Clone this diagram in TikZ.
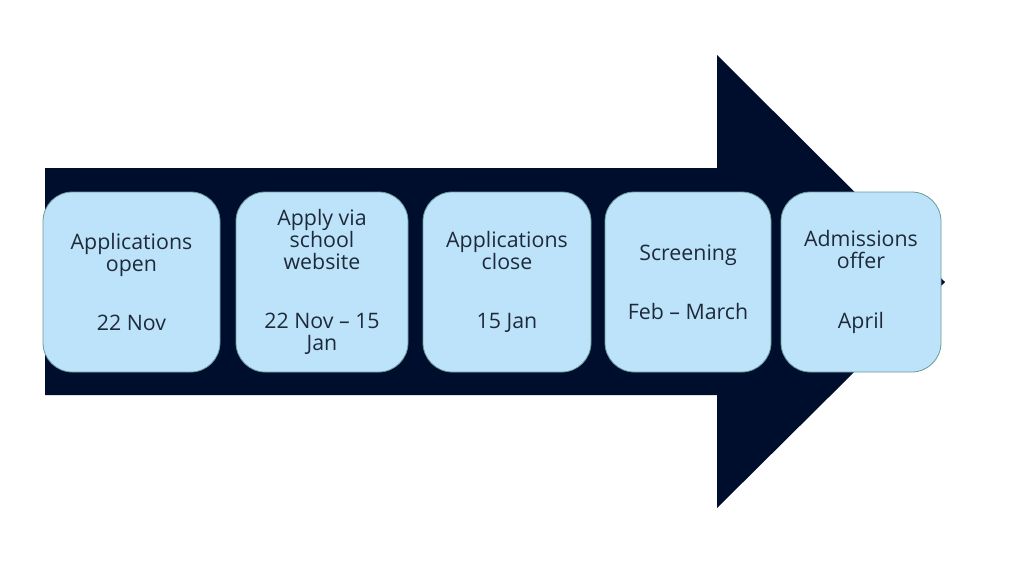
\documentclass[tikz,border=0pt]{standalone}
\usepackage{fontspec}
\setmainfont{Open Sans}
\usepackage{tikz}
\definecolor{navy}{HTML}{000E2E}
\definecolor{stepfill}{HTML}{BDE3FA}
\definecolor{stepline}{HTML}{6A9A9A}
\definecolor{steptext}{HTML}{1E2A3A}
\tikzset{
    stage/.style={rounded corners=22, draw=stepline, line width=0.6pt, fill=stepfill,
        text=steptext, align=center, minimum height=180*0.75pt,
        font=\fontsize{16}{16.5}\selectfont, inner sep=0pt}
}

\begin{document}
\begin{tikzpicture}[x=0.75pt, y=-0.75pt]

                \useasboundingbox (0,0) rectangle (1024,576);
                
                % big arrow behind the stages
                \fill[navy] (45,168) -- (717,168) -- (717,55) -- (945,282)
                    -- (717,508) -- (717,395) -- (45,395) -- cycle;
                
                \node[stage, minimum width=177*0.75pt] (open) at (131.5,282) {Applications\\open\\[28pt]22 Nov};
                \node[stage, minimum width=172*0.75pt] (apply) at (322,282) {Apply via\\school\\website\\[28pt]22 Nov -- 15\\Jan};
                \node[stage, minimum width=168*0.75pt] (close) at (507,282) {Applications\\close\\[28pt]15 Jan};
                \node[stage, minimum width=166*0.75pt] (screen) at (688,282) {Screening\\[28pt]Feb -- March};
                \node[stage, minimum width=160*0.75pt] (offer) at (861,282) {Admissions\\offer\\[28pt]April};
                
            \end{tikzpicture}
\end{document}
